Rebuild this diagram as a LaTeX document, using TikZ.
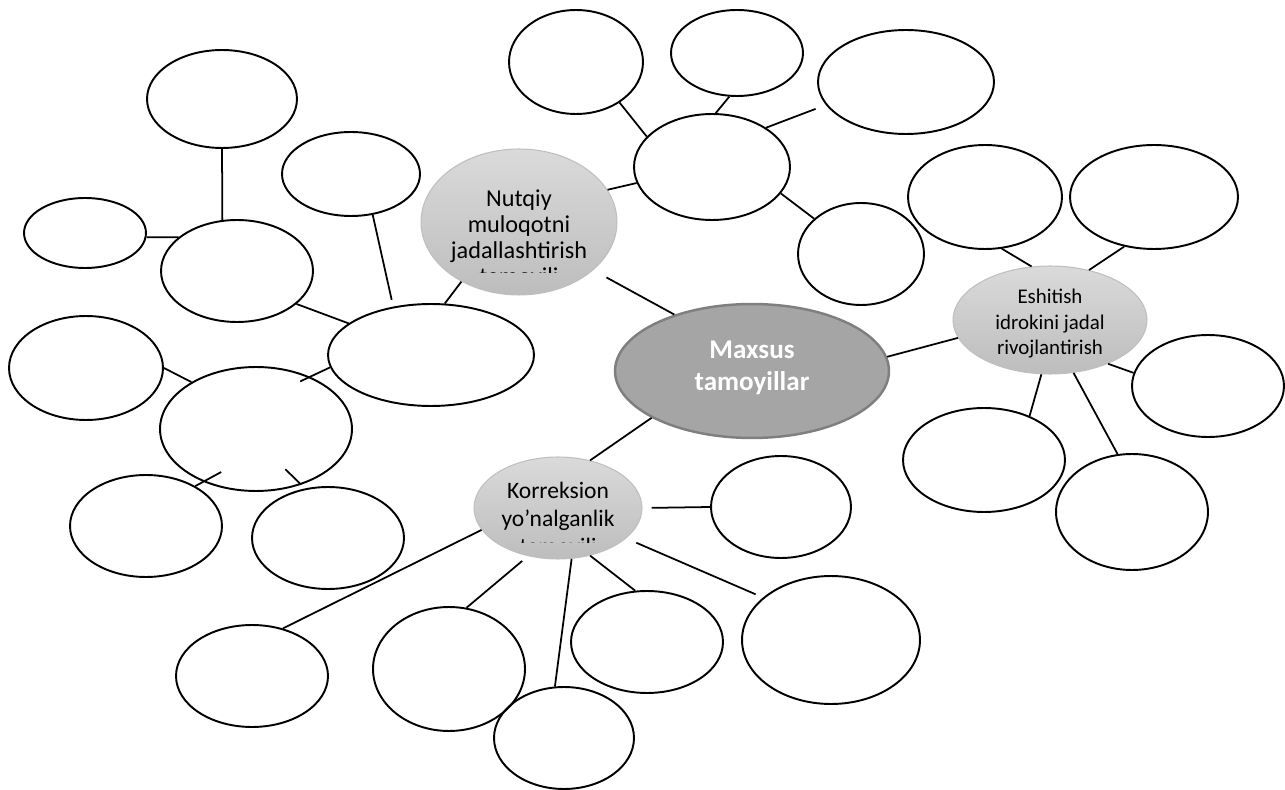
\documentclass[tikz,border=0pt]{standalone}
\usepackage{fontspec}
\setmainfont{Carlito}
\usetikzlibrary{shapes.geometric}

\definecolor{topicedge}{HTML}{BFBFBF}
\definecolor{topictop}{HTML}{DADADA}
\definecolor{topicbottom}{HTML}{BDBDBD}
\definecolor{corefill}{HTML}{A5A5A5}
\definecolor{coreedge}{HTML}{7F7F7F}

\begin{document}
\begin{tikzpicture}[x=0.02cm, y=-0.02cm]
\tikzstyle{blank} = [ellipse, draw, line width=1.1pt, inner sep=0pt]
\tikzstyle{topic} = [ellipse, draw=topicedge, line width=0.6pt,
    top color=topictop, bottom color=topicbottom, inner sep=0pt]
\tikzstyle{core} = [ellipse, draw=coreedge, line width=1.4pt, fill=corefill,
    inner sep=0pt]
\tikzstyle{caption} = [align=center, inner sep=0pt]
\tikzstyle{line} = [draw, line width=1pt]

\useasboundingbox (0,0) rectangle (1285,790);

 % main topics
 \node [core, minimum width=5.48cm, minimum height=2.68cm] (main) at (752,371) {};
 \node [caption, white, font=\fontsize{15.4}{18.1}\selectfont\bfseries, yshift=0.06cm] (maintxt) at (main) {Maxsus\\tamoyillar};
 \node [topic, minimum width=3.92cm, minimum height=2.92cm] (nutq) at (519,222) {};
 \node [topic, minimum width=3.88cm, minimum height=2.16cm] (eshit) at (1050,320) {};
 \node [caption, font=\fontsize{11.9}{14.5}\selectfont, yshift=-0.08cm] (eshittxt) at (eshit) {Eshitish\\idrokini jadal\\rivojlantirish};
 \node [topic, minimum width=3.36cm, minimum height=2.04cm] (korr) at (558,508) {};

 \begin{scope}
 \clip (410,140) rectangle (630,273);
 \node [caption, font=\fontsize{13.8}{14.8}\selectfont, yshift=-0.34cm] (nutqtxt) at (nutq) {Nutqiy\\muloqotni\\jadallashtirish\\tamoyili};
 \end{scope}
 \begin{scope}
 \clip (470,450) rectangle (650,542);
 \node [caption, font=\fontsize{13.4}{15.9}\selectfont, yshift=-0.24cm] (korrtxt) at (korr) {Korreksion\\yo’nalganlik\\tamoyili};
 \end{scope}

 % left group
 \node [blank, minimum width=4.12cm, minimum height=2.04cm] (nhub) at (431,355) {};
 \node [blank, minimum width=3.00cm, minimum height=1.96cm] (na) at (222,99) {};
 \node [blank, minimum width=2.44cm, minimum height=1.40cm] (nb) at (85,233) {};
 \node [blank, minimum width=3.04cm, minimum height=2.04cm] (nc) at (237,271) {};
 \node [blank, minimum width=2.76cm, minimum height=1.68cm] (nd) at (351,174) {};
 \node [blank, minimum width=3.08cm, minimum height=2.08cm] (ne) at (86,368) {};
 \node [blank, minimum width=3.84cm, minimum height=2.48cm] (nf) at (256,429) {};
 \node [blank, minimum width=3.04cm, minimum height=2.04cm] (ng) at (146,526) {};
 \node [blank, minimum width=3.04cm, minimum height=2.04cm] (nh) at (328,538) {};

 % top group
 \node [blank, minimum width=3.12cm, minimum height=2.12cm] (thub) at (712,167) {};
 \node [blank, minimum width=2.68cm, minimum height=2.08cm] (ta) at (576,62) {};
 \node [blank, minimum width=2.64cm, minimum height=1.72cm] (tb) at (737,53) {};
 \node [blank, minimum width=3.52cm, minimum height=2.08cm] (tc) at (906,82) {};
 \node [blank, minimum width=2.52cm, minimum height=2.04cm] (td) at (861,254) {};

 % right group
 \node [blank, minimum width=3.08cm, minimum height=2.08cm] (ea) at (985,197) {};
 \node [blank, minimum width=3.36cm, minimum height=2.08cm] (eb) at (1154,197) {};
 \node [blank, minimum width=3.04cm, minimum height=2.04cm] (ec) at (1208,386) {};
 \node [blank, minimum width=3.24cm, minimum height=2.08cm] (ed) at (984,460) {};
 \node [blank, minimum width=3.04cm, minimum height=2.32cm] (ee) at (1132,512) {};

 % bottom group
 \node [blank, minimum width=2.80cm, minimum height=2.04cm] (ka) at (781,507) {};
 \node [blank, minimum width=3.04cm, minimum height=2.04cm] (kb) at (252,676) {};
 \node [blank, minimum width=3.04cm, minimum height=2.48cm] (kc) at (449,669) {};
 \node [blank, minimum width=2.80cm, minimum height=2.04cm] (kd) at (564,738) {};
 \node [blank, minimum width=3.04cm, minimum height=2.04cm] (ke) at (647,642) {};
 \node [blank, minimum width=3.56cm, minimum height=2.56cm] (kf) at (831,640) {};

 \path [line, shorten <=0.3cm] (nutq.327) -- (main.144);
 \path [line] (main.6) -- (eshit.191);
 \path [line] (korr.56) -- (main.205);

 \path [line] (na.270) -- (nc.106);
 \path [line] (nb.356) -- (nc.150);
 \path [line] (nc.331) -- (nhub.159);
 \path [line, shorten >=0.14cm] (nd.298) -- (nhub.128);
 \path [line] (nutq.226) -- (nhub.75);
 \path [line, shorten >=-0.22cm] (nhub.187) -- (nf.44);
 \path [line] (ne.0) -- (nf.144);
 \path [line, shorten <=-0.41cm] (nf.225) -- (ng.39);
 \path [line, shorten <=0.14cm, shorten >=-0.44cm] (nh.115) -- (nf.309);

 \path [line] (nutq.20) -- (thub.192);
 \path [line] (ta.317) -- (thub.155);
 \path [line] (tb.260) -- (thub.86);
 \path [line, shorten <=0.22cm] (tc.196) -- (thub.36);
 \path [line] (thub.339) -- (td.143);

 \path [line] (ea.288) -- (eshit.109);
 \path [line] (eb.239) -- (eshit.52);
 \path [line] (eshit.323) -- (ec.170);
 \path [line] (eshit.261) -- (ed.44);
 \path [line] (eshit.294) -- (ee.104);

 \path [line, shorten <=0.18cm] (korr.east) -- (ka.west);
 \path [line] (korr.196) -- (kb.57);
 \path [line, shorten <=0.15cm] (korr.238) -- (kc.74);
 \path [line] (korr.285) -- (kd.100);
 \path [line] (korr.304) -- (ke.103);
 \path [line, shorten <=0.22cm, shorten >=0.16cm] (korr.336) -- (kf.148);
\end{tikzpicture}
\end{document}
